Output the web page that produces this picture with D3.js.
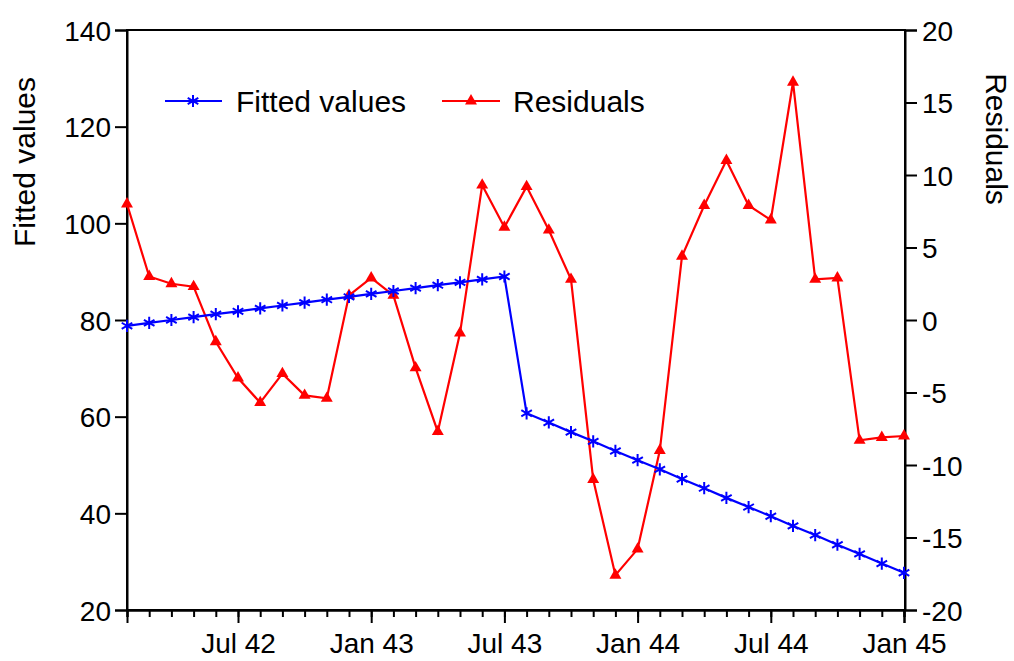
<!DOCTYPE html>
<html>
<head>
<meta charset="utf-8">
<script src="https://cdn.jsdelivr.net/npm/d3@7"></script>
<style>
html,body{margin:0;padding:0;background:#fff;}
svg{display:block;font-family:"Liberation Sans",Arial,sans-serif;}
</style>
</head>
<body>
<svg id="chart" width="1014" height="661"></svg>
<script>
const months = ["Feb 42","Mar 42","Apr 42","May 42","Jun 42","Jul 42","Aug 42","Sep 42","Oct 42","Nov 42","Dec 42",
  "Jan 43","Feb 43","Mar 43","Apr 43","May 43","Jun 43","Jul 43","Aug 43","Sep 43","Oct 43","Nov 43","Dec 43",
  "Jan 44","Feb 44","Mar 44","Apr 44","May 44","Jun 44","Jul 44","Aug 44","Sep 44","Oct 44","Nov 44","Dec 44","Jan 45"];
const fitted = [78.8,79.4,80.0,80.6,81.2,81.8,82.4,83.0,83.6,84.2,84.8,85.4,86.0,86.6,87.2,87.8,88.4,89.0,
  60.7,58.8,56.8,54.9,52.9,51.0,49.1,47.1,45.2,43.2,41.3,39.4,37.4,35.5,33.5,31.6,29.6,27.7];
const residuals = [8.0,3.0,2.5,2.3,-1.5,-4.0,-5.7,-3.7,-5.2,-5.4,1.7,2.9,1.7,-3.3,-7.7,-0.9,9.3,6.4,
  9.2,6.2,2.8,-11.0,-17.6,-15.8,-9.0,4.4,7.9,11.0,7.9,6.9,16.4,2.8,2.9,-8.3,-8.1,-8.0];
const majorTickLabels = ["Jul 42","Jan 43","Jul 43","Jan 44","Jul 44","Jan 45"];
const leftTicks = [20,40,60,80,100,120,140];
const rightTicks = [-20,-15,-10,-5,0,5,10,15,20];
const seriesNames = ["Fitted values","Residuals"];

const svg = d3.select("#chart");
const L = 127, R = 905, T = 30, B = 610;
const x = d3.scaleLinear().domain([0, months.length - 1]).range([L, R - 1]);
const yL = d3.scaleLinear().domain([20, 140]).range([B, T]);
const yR = d3.scaleLinear().domain([-20, 20]).range([B, T]);
const tickFont = 28, titleFont = 30;

// Plot frame
svg.append("rect").attr("x", L).attr("y", T).attr("width", R - L).attr("height", B - T)
  .attr("fill", "none").attr("stroke", "#000").attr("stroke-width", 2);

// Left axis
const gl = svg.append("g").attr("transform", `translate(${L},0)`)
  .call(d3.axisLeft(yL).tickValues(leftTicks).tickSize(12).tickPadding(4).tickFormat(d3.format("d")));
// Right axis
const gr = svg.append("g").attr("transform", `translate(${R},0)`)
  .call(d3.axisRight(yR).tickValues(rightTicks).tickSize(12).tickPadding(5).tickFormat(d => d < 0 ? "-" + Math.abs(d) : String(d)));
// Bottom axis: minor monthly ticks
const gbMinor = svg.append("g").attr("transform", `translate(0,${B})`)
  .call(d3.axisBottom(x).tickValues(d3.range(months.length)).tickSize(7).tickFormat(""));
const majorIdx = majorTickLabels.map(l => months.indexOf(l));
const gb = svg.append("g").attr("transform", `translate(0,${B})`)
  .call(d3.axisBottom(x).tickValues(majorIdx).tickSize(13).tickPadding(6).tickFormat(i => months[i]));

[gl, gr, gbMinor, gb].forEach(g => {
  g.select(".domain").attr("stroke", "#000").attr("stroke-width", 2);
  g.selectAll(".tick line").attr("stroke", "#000").attr("stroke-width", 2);
  g.selectAll(".tick text").attr("fill", "#000").style("font-size", tickFont + "px")
    .style("font-family", '"Liberation Sans", Arial, sans-serif');
});
gl.selectAll(".tick text").attr("dy", "0.36em");
gr.selectAll(".tick text").attr("dy", "0.36em");
gb.selectAll(".tick text").attr("dy", "0.85em");

// Axis titles
svg.append("text").attr("transform", `translate(35,162) rotate(-90)`).attr("text-anchor", "middle")
  .style("font-size", titleFont + "px").text("Fitted values");
svg.append("text").attr("transform", `translate(986,139) rotate(90)`).attr("text-anchor", "middle")
  .style("font-size", titleFont + "px").text("Residuals");

// Series lines
const lineL = d3.line().x((d, i) => x(i)).y(d => yL(d));
const lineR = d3.line().x((d, i) => x(i)).y(d => yR(d));
const star = d3.symbol().type(d3.symbolAsterisk).size(105);
const tri = d3.symbol().type(d3.symbolTriangle).size(62);

svg.append("path").datum(residuals).attr("d", lineR).attr("fill", "none").attr("stroke", "#ff0000").attr("stroke-width", 2.2);
svg.append("g").selectAll("path").data(residuals).join("path")
  .attr("transform", (d, i) => `translate(${x(i)},${yR(d)})`).attr("d", tri).attr("fill", "#ff0000");

svg.append("path").datum(fitted).attr("d", lineL).attr("fill", "none").attr("stroke", "#0000ff").attr("stroke-width", 2.2);
svg.append("g").selectAll("path").data(fitted).join("path")
  .attr("transform", (d, i) => `translate(${x(i)},${yL(d)})`).attr("d", star)
  .attr("fill", "none").attr("stroke", "#0000ff").attr("stroke-width", 2);

// Legend
const leg = svg.append("g");
leg.append("line").attr("x1", 165).attr("x2", 222).attr("y1", 101).attr("y2", 101).attr("stroke", "#0000ff").attr("stroke-width", 2.2);
leg.append("path").attr("transform", "translate(193,101)").attr("d", star).attr("fill", "none").attr("stroke", "#0000ff").attr("stroke-width", 2);
leg.append("text").attr("x", 236).attr("y", 112).style("font-size", titleFont + "px").text(seriesNames[0]);
leg.append("line").attr("x1", 442).attr("x2", 500).attr("y1", 101).attr("y2", 101).attr("stroke", "#ff0000").attr("stroke-width", 2.2);
leg.append("path").attr("transform", "translate(471,101)").attr("d", tri).attr("fill", "#ff0000");
leg.append("text").attr("x", 513).attr("y", 112).style("font-size", titleFont + "px").text(seriesNames[1]);
</script>
</body>
</html>
